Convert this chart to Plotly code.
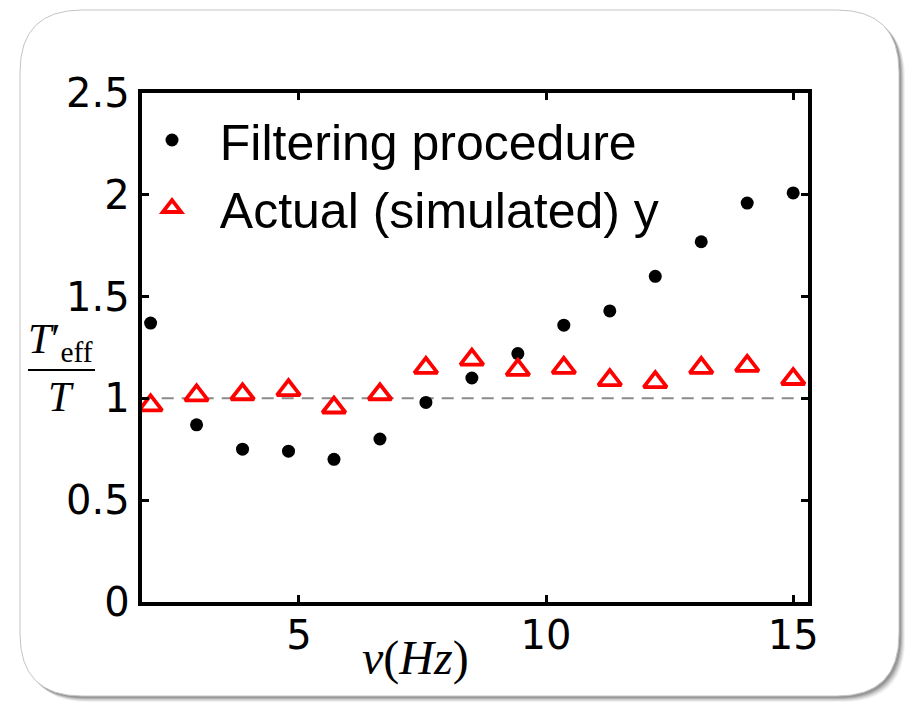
import plotly.graph_objects as go

# Frequencies (Hz) and effective-temperature ratios
freq_hz = [2.0, 2.93, 3.86, 4.79, 5.71, 6.64, 7.57, 8.5, 9.43, 10.36, 11.29, 12.21, 13.14, 14.07, 15.0]
filtering_ratio = [1.37, 0.87, 0.75, 0.74, 0.70, 0.80, 0.98, 1.10, 1.22, 1.36, 1.43, 1.60, 1.77, 1.96, 2.01]
actual_ratio = [0.965, 1.015, 1.02, 1.04, 0.955, 1.02, 1.15, 1.19, 1.14, 1.15, 1.09, 1.08, 1.15, 1.16, 1.095]

y_tick_vals = [0, 0.5, 1, 1.5, 2, 2.5]
y_tick_text = ["0", "0.5", "1", "1.5", "2", "2.5"]
x_tick_vals = [5, 10, 15]
x_tick_text = ["5", "10", "15"]

W, H = 917, 703


def px(x):
    return x / W


def py(y):
    return 1 - y / H


def rounded_rect(x0, y0, x1, y1, r):
    """SVG path of a rounded rectangle, given in pixels, expressed in paper units."""
    pts = [
        f"M {px(x0 + r)},{py(y0)}",
        f"L {px(x1 - r)},{py(y0)}",
        f"Q {px(x1)},{py(y0)} {px(x1)},{py(y0 + r)}",
        f"L {px(x1)},{py(y1 - r)}",
        f"Q {px(x1)},{py(y1)} {px(x1 - r)},{py(y1)}",
        f"L {px(x0 + r)},{py(y1)}",
        f"Q {px(x0)},{py(y1)} {px(x0)},{py(y1 - r)}",
        f"L {px(x0)},{py(y0 + r)}",
        f"Q {px(x0)},{py(y0)} {px(x0 + r)},{py(y0)}",
        "Z",
    ]
    return " ".join(pts)


fig = go.Figure()

fig.add_trace(go.Scatter(
    x=freq_hz, y=filtering_ratio, mode="markers",
    name="\u00a0\u00a0Filtering procedure",
    marker=dict(symbol="circle", size=13, color="black", line=dict(width=0)),
))
fig.add_trace(go.Scatter(
    x=freq_hz, y=actual_ratio, mode="markers",
    name="\u00a0\u00a0Actual (simulated) y",
    marker=dict(symbol="triangle-up", size=20, color="white",
                line=dict(width=3.8, color="#ff0000")),
))

shapes = []
# card shadow
for k, a in [(6, 0.05), (5, 0.07), (4, 0.09), (3, 0.12), (2, 0.15)]:
    shapes.append(dict(type="path", xref="paper", yref="paper", layer="below",
                       path=rounded_rect(20 + k, 10 + k, 899 + k, 696 + k, 62),
                       fillcolor=f"rgba(0,0,0,{a})", line=dict(width=0)))
# white card
shapes.append(dict(type="path", xref="paper", yref="paper", layer="below",
                   path=rounded_rect(20, 10, 899, 696, 62),
                   fillcolor="white", line=dict(width=1, color="#c4c4c4")))
# reference level T'eff / T = 1
shapes.append(dict(type="line", xref="x domain", yref="y", x0=0, x1=1, y0=1, y1=1,
                   layer="below", line=dict(color="#8a8a8a", width=2, dash="12px,8px")))
# fraction bar of the y-axis label
shapes.append(dict(type="line", xref="paper", yref="paper",
                   x0=px(28), x1=px(95), y0=py(370), y1=py(370),
                   line=dict(color="black", width=2)))

serif = "Liberation Serif, DejaVu Serif, serif"
annotations = [
    dict(xref="paper", yref="paper", x=px(60), y=py(342), xanchor="center", yanchor="middle",
         text="<i>T</i>′<sub>eff</sub>", showarrow=False,
         font=dict(family=serif, size=42, color="black")),
    dict(xref="paper", yref="paper", x=px(61), y=py(397), xanchor="center", yanchor="middle",
         text="<i>T</i>", showarrow=False,
         font=dict(family=serif, size=42, color="black")),
    dict(xref="paper", yref="paper", x=px(415), y=py(658), xanchor="center", yanchor="middle",
         text="<i>ν</i>(<i>Hz</i>)", showarrow=False,
         font=dict(family=serif, size=48, color="black")),
]

axis_common = dict(
    showline=True, linecolor="black", linewidth=4, mirror="allticks",
    ticks="inside", ticklen=7, tickwidth=2.5, tickcolor="black",
    showgrid=False, zeroline=False, automargin=False,
    tickfont=dict(family="DejaVu Sans, sans-serif", size=40, color="black"),
)

fig.update_layout(
    template="none",
    width=W, height=H, autosize=False,
    margin=dict(l=0, r=0, t=0, b=0, autoexpand=False),
    paper_bgcolor="white", plot_bgcolor="rgba(0,0,0,0)",
    xaxis=dict(domain=[px(141.7), px(808)], range=[1.82, 15.3],
               tickvals=x_tick_vals, ticktext=x_tick_text, ticklabelstandoff=-5,
               **axis_common),
    yaxis=dict(domain=[py(601.7), py(93.3)], range=[0, 2.5],
               tickvals=y_tick_vals, ticktext=y_tick_text, **axis_common),
    legend=dict(x=px(152), y=py(101), xanchor="left", yanchor="top",
                bgcolor="rgba(0,0,0,0)", borderwidth=0,
                font=dict(family="Liberation Sans, Arial, sans-serif", size=50, color="black"),
                itemsizing="trace"),
    shapes=shapes, annotations=annotations,
)

fig.write_html("out.html", config={"displayModeBar": False})
